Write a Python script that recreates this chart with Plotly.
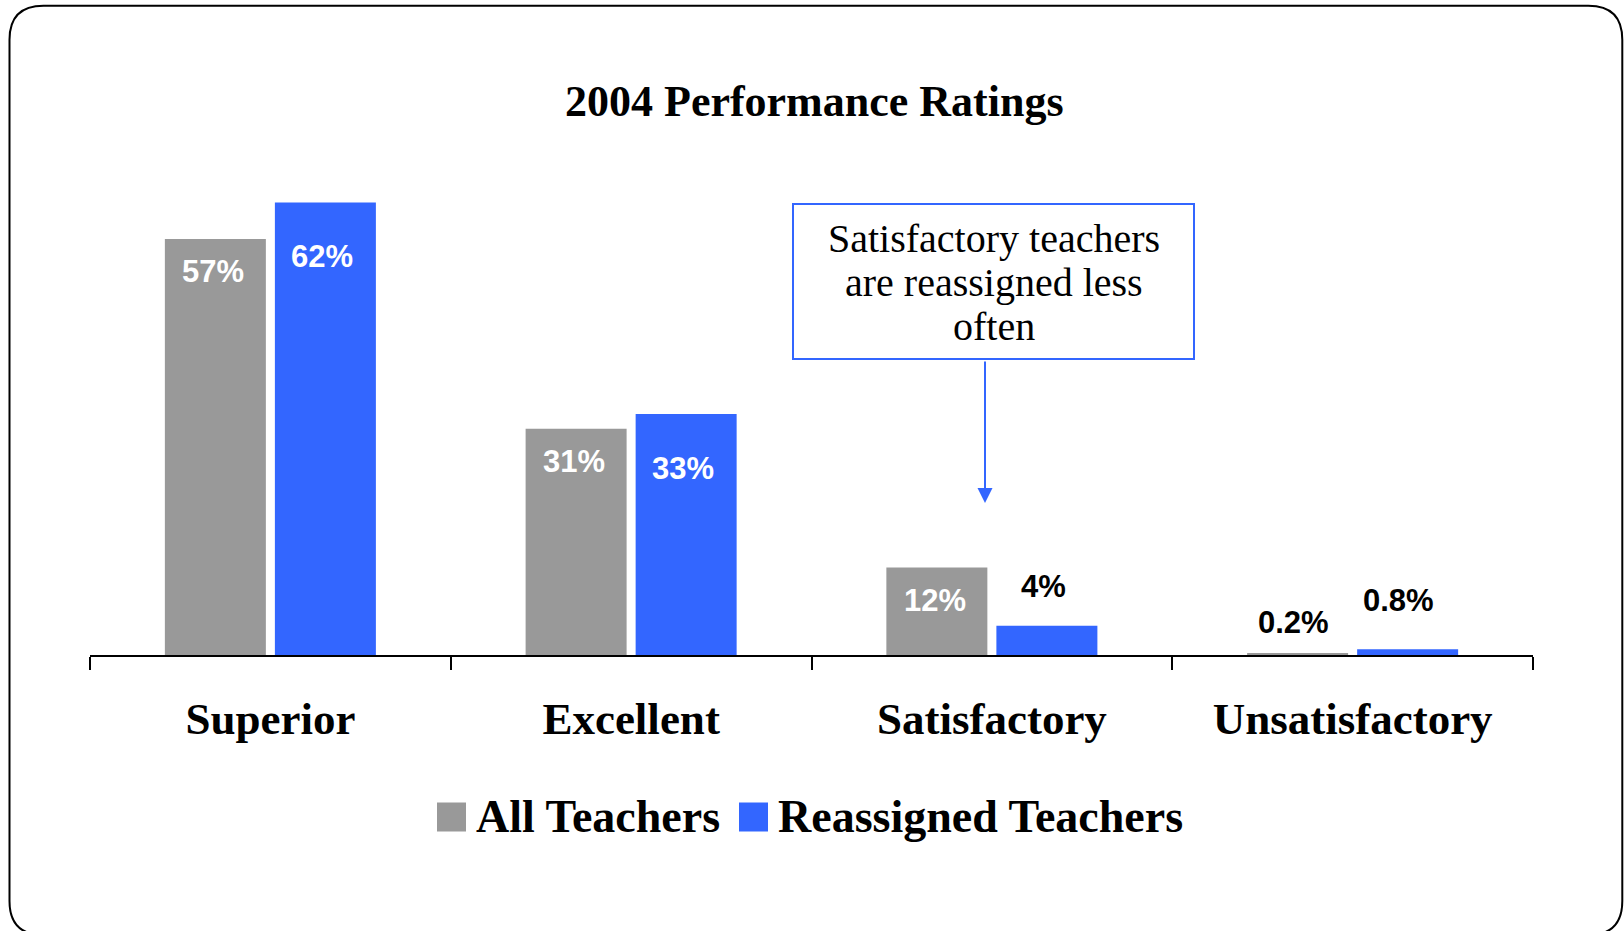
import plotly.graph_objects as go

# ---------------- data ----------------
categories = ["Superior", "Excellent", "Satisfactory", "Unsatisfactory"]
series_names = ["All Teachers", "Reassigned Teachers"]
all_teachers = [57, 31, 12, 0.2]
reassigned_teachers = [62, 33, 4, 0.8]
all_labels = ["57%", "31%", "12%", "0.2%"]
reassigned_labels = ["62%", "33%", "4%", "0.8%"]
title_text = "2004 Performance Ratings"
callout_lines = ["Satisfactory teachers", "are reassigned less", "often"]

# ---------------- style ----------------
OFF = 0  # page body margin (removed via post_script)
W, H = 1624 - OFF, 931 - OFF
L, R, T, B = 90 - OFF, 91, 144 - OFF, 276
PW, PH = W - L - R, H - T - B
colors = ["#999999", "#3366FF"]
SERIF = "Liberation Serif, Times New Roman, serif"
SANS = "Liberation Sans, Arial, sans-serif"
BARGAP = 0.39
BARGROUPGAP = 0.082


def px(x):
    """page pixel x -> paper fraction"""
    return (x - OFF - L) / PW


def py(y):
    """page pixel y -> paper fraction"""
    return (H - B - (y - OFF)) / PH


fig = go.Figure()
series_values = [all_teachers, reassigned_teachers]
for name, vals, col in zip(series_names, series_values, colors):
    fig.add_trace(go.Bar(x=categories, y=vals, name=name, marker_color=col,
                         marker_line_width=0, showlegend=False,
                         hoverinfo="x+y"))

# data labels
cat_px = PW / len(categories)
slot = cat_px * (1 - BARGAP) / 2
offsets = [-slot / 2 - 2, slot / 2 - 3]
inside_shift = [-33, -54]
outside_shift = {(2, 1): (0, 39), (3, 0): (-2, 31), (3, 1): (-6, 49)}
annotations = []
for s, (vals, labs) in enumerate(zip(series_values, [all_labels, reassigned_labels])):
    for i, (v, lab) in enumerate(zip(vals, labs)):
        inside = v >= 10
        if inside:
            dx, dy = 0, inside_shift[s]
        else:
            dx, dy = outside_shift.get((i, s), (0, 35))
        annotations.append(dict(
            x=categories[i], y=v, xref="x", yref="y", xshift=offsets[s] + dx, yshift=dy,
            text=f"<b>{lab}</b>", showarrow=False, xanchor="center", yanchor="middle",
            font=dict(family=SANS, size=31, color="white" if inside else "black")))

shapes = []
# callout box
bx0, by0, bx1, by1 = 793, 204, 1194, 359
shapes.append(dict(type="rect", xref="paper", yref="paper",
                   x0=px(bx0), x1=px(bx1), y0=py(by1), y1=py(by0),
                   line=dict(color="#3366FF", width=2), fillcolor="white"))
line_ys = [238, 282, 326]
for txt, ly in zip(callout_lines, line_ys):
    annotations.append(dict(
        x=px((bx0 + bx1) / 2), y=py(ly), xref="paper", yref="paper",
        text=txt, showarrow=False, xanchor="center", yanchor="middle",
        font=dict(family=SERIF, size=40, color="black")))
# arrow
annotations.append(dict(
    x=px(985), y=py(503), xref="paper", yref="paper", text="", showarrow=True,
    ax=0, ay=-(503 - 360), axref="pixel", ayref="pixel",
    arrowhead=2, arrowsize=1.5, arrowwidth=2, arrowcolor="#3366FF"))

# title
annotations.append(dict(
    x=px(814), y=py(102), xref="paper", yref="paper", text=f"<b>{title_text}</b>",
    showarrow=False, xanchor="center", yanchor="middle",
    font=dict(family=SERIF, size=44, color="black")))

# manual legend
leg_boxes = [(437, 466), (739, 768)]
leg_cy = 817
for (x0, x1), name, col in zip(leg_boxes, series_names, colors):
    shapes.append(dict(type="rect", xref="paper", yref="paper",
                       x0=px(x0), x1=px(x1), y0=py(leg_cy + 14.5), y1=py(leg_cy - 14.5),
                       fillcolor=col, line_width=0))
    annotations.append(dict(
        x=px(x1 + 8), y=py(leg_cy), xref="paper", yref="paper", text=f"<b>{name}</b>",
        showarrow=False, xanchor="left", yanchor="middle",
        font=dict(family=SERIF, size=46, color="black")))

# rounded outer frame (page pixel coords)
fx0, fy0, fx1, fy1, rr = 9.5, 5.7, 1622.3, 935, 34
path = (f"M {px(fx0 + rr)},{py(fy0)} L {px(fx1 - rr)},{py(fy0)} "
        f"Q {px(fx1)},{py(fy0)} {px(fx1)},{py(fy0 + rr)} "
        f"L {px(fx1)},{py(fy1 - rr)} Q {px(fx1)},{py(fy1)} {px(fx1 - rr)},{py(fy1)} "
        f"L {px(fx0 + rr)},{py(fy1)} Q {px(fx0)},{py(fy1)} {px(fx0)},{py(fy1 - rr)} "
        f"L {px(fx0)},{py(fy0 + rr)} Q {px(fx0)},{py(fy0)} {px(fx0 + rr)},{py(fy0)} Z")
shapes.append(dict(type="path", xref="paper", yref="paper", path=path,
                   line=dict(color="black", width=2), layer="below"))

fig.update_layout(
    width=W, height=H, margin=dict(l=L, r=R, t=T, b=B, pad=0),
    paper_bgcolor="white", plot_bgcolor="white",
    barmode="group", bargap=BARGAP, bargroupgap=BARGROUPGAP,
    showlegend=False, annotations=annotations, shapes=shapes,
    xaxis=dict(type="category", range=[-0.5, 3.5], showline=True, linecolor="black",
               linewidth=2, ticks="outside", tickson="boundaries", ticklen=13,
               tickwidth=2, tickcolor="black", showgrid=False, zeroline=False,
               tickfont=dict(family=SERIF, size=45, color="black"),
               ticklabelstandoff=23, fixedrange=True),
    yaxis=dict(range=[0, 70], visible=False, showgrid=False, zeroline=False,
               fixedrange=True),
)
fig.update_xaxes(ticktext=[f"<b>{c}</b>" for c in categories], tickvals=categories)

fig.write_html("out.html", config={"displayModeBar": False},
               post_script="document.body.style.margin='0';"
                           "document.body.style.overflow='hidden';")
